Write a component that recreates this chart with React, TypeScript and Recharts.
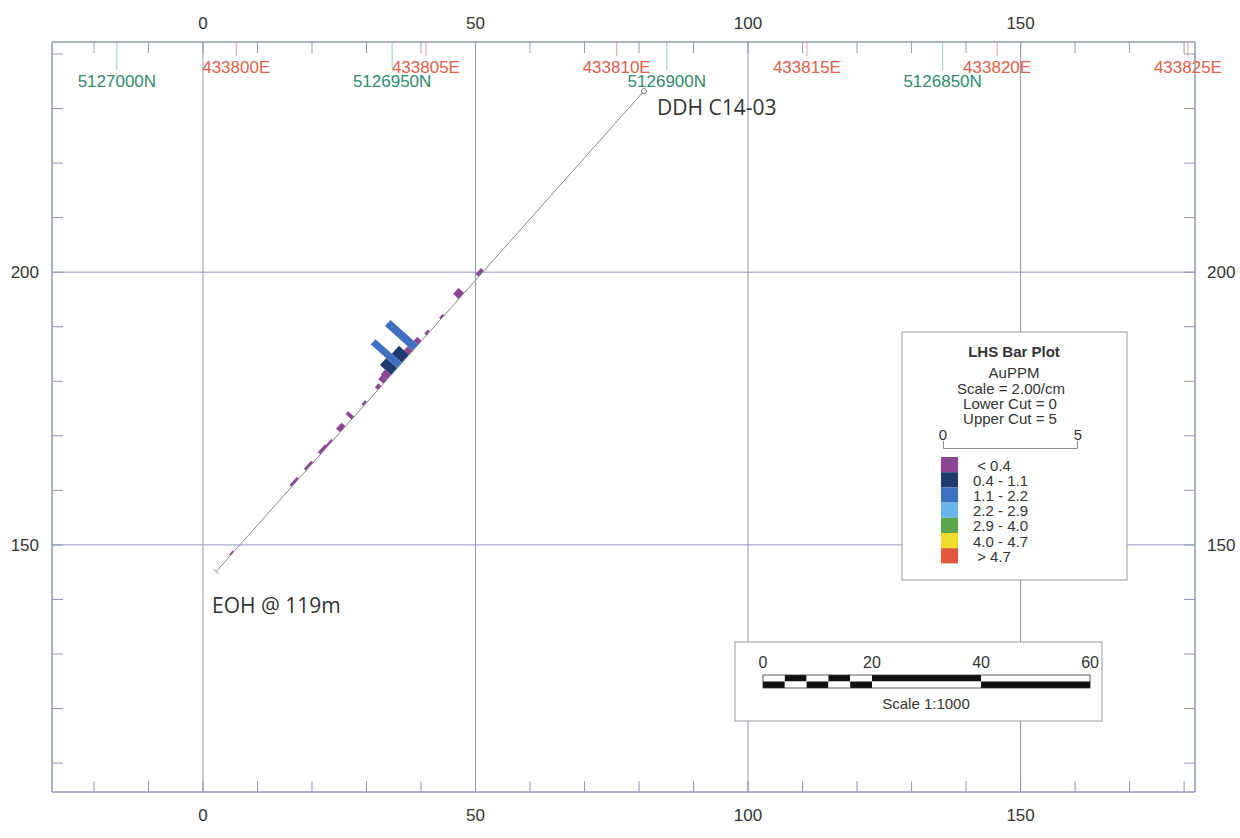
import React from 'react';
import { ComposedChart, Line, XAxis, YAxis, CartesianGrid, ReferenceDot, ReferenceLine } from 'recharts';

// section frame (metres along section / elevation)
const X_DOMAIN: [number, number] = [-27.7, 182];
const Y_DOMAIN: [number, number] = [104.7, 242.2];
const sectionTicks = [0, 50, 100, 150];
const elevationTicks = [150, 200];
const minorX = [-20, -10, 0, 10, 20, 30, 40, 50, 60, 70, 80, 90, 100, 110, 120, 130, 140, 150, 160, 170, 180];
const minorY = [110, 120, 130, 140, 150, 160, 170, 180, 190, 200, 210, 220, 230, 240];

// map grid pierce points along the section
const eastTickX = [6.1, 40.9, 75.9, 110.8, 145.7, 180.7];
const eastLabels = ['433800E', '433805E', '433810E', '433815E', '433820E', '433825E'];
const northTickX = [-15.8, 34.7, 85.1, 135.7];
const northLabels = ['5127000N', '5126950N', '5126900N', '5126850N'];

// drill hole
const collar = { x: 80.9, y: 233.2 };
const eoh = { x: 2.4, y: 145.1 };
const holeLength = 119;

// assays (depth from / to in m, Au ppm)
const sampleFrom = [44.5, 50.0, 55.5, 59.5, 61.8, 62.8, 64.3, 65.3, 67.3, 68.6, 70.3, 71.5, 73.0, 77.0, 80.6, 83.0, 86.5, 88.0, 92.0, 96.0, 114.0];
const sampleTo = [46.0, 51.5, 56.5, 60.5, 62.8, 64.3, 65.3, 67.3, 68.6, 70.3, 71.5, 72.5, 74.0, 78.0, 81.3, 84.5, 88.0, 90.0, 94.0, 98.0, 115.0];
const auPpm = [0.15, 0.28, 0.08, 0.1, 0.22, 1.36, 0.25, 0.5, 1.3, 0.55, 0.3, 0.25, 0.15, 0.1, 0.3, 0.2, 0.08, 0.12, 0.1, 0.1, 0.06];

// legend classes
const classUpper = [0.4, 1.1, 2.2, 2.9, 4.0, 4.7, Infinity];
const classLabels = [' < 0.4', '0.4 - 1.1', '1.1 - 2.2', '2.2 - 2.9', '2.9 - 4.0', '4.0 - 4.7', ' > 4.7'];
const classColors = ['#8c4494', '#1f3b6e', '#3e70c2', '#69b5ec', '#5aa64c', '#f1dc2c', '#e0573c'];

// scale bar (m)
const scaleLabels = [0, 20, 40, 60];
const scaleFrom = [0, 4, 8, 12, 16, 20, 40];
const scaleTo = [4, 8, 12, 16, 20, 40, 60];
const scaleTopBlack = [false, true, false, true, false, true, false];

const M_PER_PPM = 5; // 2.00 ppm / cm at 1:1000
const PLOT_W = 1143;
const PLOT_H = 750;
const PX_PER_M = PLOT_W / (X_DOMAIN[1] - X_DOMAIN[0]);
const PX_PER_M_Y = PLOT_H / (Y_DOMAIN[1] - Y_DOMAIN[0]);
const tickLen = (px: number) => px / PX_PER_M_Y;

const FONT = "'Liberation Sans', Arial, sans-serif";
const FRAME = '#8f97b6';
const GRID = '#8f97b6';

const dir = { x: (eoh.x - collar.x) / holeLength, y: (eoh.y - collar.y) / holeLength };
const dirLen = Math.hypot(dir.x, dir.y);
const perp = { x: dir.y / dirLen, y: -dir.x / dirLen }; // left-hand side

const along = (d: number) => ({ x: collar.x + dir.x * d, y: collar.y + dir.y * d });

const traceData = [collar, eoh];
const eohTick = [
  { x: eoh.x - perp.x * 0.6, y: eoh.y - perp.y * 0.6 },
  { x: eoh.x + perp.x * 0.6, y: eoh.y + perp.y * 0.6 },
];

const classOf = (v: number) => classUpper.findIndex((u) => v < u);

const bars = sampleFrom.map((from, i) => {
  const mid = (from + sampleTo[i]) / 2;
  const base = along(mid);
  const len = auPpm[i] * M_PER_PPM;
  return {
    data: [base, { x: base.x + perp.x * len, y: base.y + perp.y * len }],
    color: classColors[classOf(auPpm[i])],
    width: (sampleTo[i] - from) * dirLen * PX_PER_M,
  };
});

const axisTick = { fill: '#333', fontSize: 17, fontFamily: FONT };
const blank = () => '';
const [Y_MIN, Y_MAX] = Y_DOMAIN;

export default function App() {
  return (
    <div style={{ position: 'absolute', left: 0, top: 0, width: 1240, height: 838, background: '#fff' }}>
      <ComposedChart width={1240} height={838} margin={{ top: 12, right: 0, bottom: 16, left: 0 }}>
        <CartesianGrid stroke={GRID} strokeWidth={1} fill="none" />

        <XAxis type="number" dataKey="x" domain={X_DOMAIN} allowDataOverflow ticks={sectionTicks} interval={0}
          height={30} tickSize={0} tickMargin={17} axisLine={{ stroke: FRAME }} tickLine={false} tick={axisTick} />
        <XAxis xAxisId="top" orientation="top" type="number" dataKey="x" domain={X_DOMAIN} allowDataOverflow
          ticks={sectionTicks} interval={0} height={30} tickSize={0} tickMargin={13} axisLine={{ stroke: FRAME }} tickLine={false} tick={axisTick} />
        <YAxis type="number" domain={Y_DOMAIN} allowDataOverflow ticks={elevationTicks} interval={0}
          width={52} tickSize={0} tickMargin={13} axisLine={false} tickLine={false} tick={axisTick} />
        <YAxis yAxisId="right" orientation="right" type="number" domain={Y_DOMAIN} allowDataOverflow ticks={elevationTicks}
          interval={0} width={45} tickSize={0} tickMargin={12} axisLine={false} tickLine={false} tick={axisTick} />

        {/* frame with inward minor ticks */}
        <YAxis yAxisId="minorLeft" orientation="left" mirror width={1} type="number" domain={Y_DOMAIN} allowDataOverflow
          ticks={minorY} interval={0} tickFormatter={blank} tickSize={11} tickLine={{ stroke: FRAME }} axisLine={{ stroke: FRAME }} />
        <YAxis yAxisId="minorRight" orientation="right" mirror width={1} type="number" domain={Y_DOMAIN} allowDataOverflow
          ticks={minorY} interval={0} tickFormatter={blank} tickSize={11} tickLine={{ stroke: FRAME }} axisLine={{ stroke: FRAME }} />

        {minorX.map((x) => (
          <ReferenceLine key={`mt${x}`} segment={[{ x, y: Y_MAX }, { x, y: Y_MAX - tickLen(11) }]} stroke={FRAME} />
        ))}
        {minorX.map((x) => (
          <ReferenceLine key={`mb${x}`} segment={[{ x, y: Y_MIN }, { x, y: Y_MIN + tickLen(11) }]} stroke={FRAME} />
        ))}

        {/* easting / northing pierce points */}
        {northTickX.map((x, i) => (
          <ReferenceLine key={`n${x}`} segment={[{ x, y: Y_MAX }, { x, y: Y_MAX - tickLen(28) }]} stroke="#93cdd0"
            label={{ value: northLabels[i], position: 'bottom', offset: 5, fill: '#2f8a6f', fontSize: 17, fontFamily: FONT }} />
        ))}
        {eastTickX.map((x, i) => (
          <ReferenceLine key={`e${x}`} segment={[{ x, y: Y_MAX }, { x, y: Y_MAX - tickLen(14) }]} stroke="#eba096"
            label={{ value: eastLabels[i], position: 'bottom', offset: 4.5, fill: '#e0604c', fontSize: 17, fontFamily: FONT }} />
        ))}

        {bars.map((b, i) => (
          <Line key={i} data={b.data} dataKey="y" type="linear" stroke={b.color} strokeWidth={b.width}
            dot={false} activeDot={false} isAnimationActive={false} legendType="none" />
        ))}
        <Line data={traceData} dataKey="y" type="linear" stroke="#858894" strokeWidth={1}
          dot={false} activeDot={false} isAnimationActive={false} legendType="none" />
        <Line data={eohTick} dataKey="y" type="linear" stroke="#858894" strokeWidth={1}
          dot={false} activeDot={false} isAnimationActive={false} legendType="none" />
        <ReferenceDot x={collar.x} y={collar.y} r={2.5} fill="#fff" stroke="#777" strokeWidth={1} />
      </ComposedChart>

      <svg width={1240} height={838} style={{ position: 'absolute', left: 0, top: 0, pointerEvents: 'none' }}>
        <text x={657} y={115} fontFamily="'Open Sans', sans-serif" fontSize={21} fill="#333">DDH C14-03</text>
        <text x={212} y={613} fontFamily="'Open Sans', sans-serif" fontSize={21} fill="#333">EOH @ 119m</text>

        {/* bar plot legend */}
        <g fontFamily={FONT} fill="#333">
          <rect x={902} y={332} width={225} height={248} fill="#fff" stroke="#9a9a9a" />
          <text x={1014} y={357} textAnchor="middle" fontSize={15} fontWeight="bold">LHS Bar Plot</text>
          <text x={1014} y={378} textAnchor="middle" fontSize={15}>AuPPM</text>
          <text x={1011} y={393.5} textAnchor="middle" fontSize={15}>Scale = 2.00/cm</text>
          <text x={1010} y={409} textAnchor="middle" fontSize={15}>Lower Cut = 0</text>
          <text x={1010} y={424} textAnchor="middle" fontSize={15}>Upper Cut = 5</text>
          <text x={943} y={439.5} textAnchor="middle" fontSize={15}>0</text>
          <text x={1078} y={439.5} textAnchor="middle" fontSize={15}>5</text>
          <path d="M943.5,441 V448.5 H1077.5 V441" fill="none" stroke="#8a8a8a" />
          {classLabels.map((lab, i) => (
            <g key={lab}>
              <rect x={941} y={457 + i * 15.2} width={17} height={15.2} fill={classColors[i]} />
              <text x={973} y={470.5 + i * 15.2} fontSize={15} style={{ whiteSpace: 'pre' }}>{lab}</text>
            </g>
          ))}
        </g>

        {/* scale bar */}
        <g fontFamily={FONT} fill="#333">
          <rect x={735} y={642} width={367} height={79} fill="#fff" stroke="#9a9a9a" />
          {scaleLabels.map((v) => (
            <text key={v} x={763 + v * PX_PER_M} y={668} textAnchor="middle" fontSize={16}>{v}</text>
          ))}
          {scaleFrom.map((f, i) => (
            <g key={f}>
              <rect x={763 + f * PX_PER_M} y={675} width={(scaleTo[i] - f) * PX_PER_M} height={6.5}
                fill={scaleTopBlack[i] ? '#111' : '#fff'} />
              <rect x={763 + f * PX_PER_M} y={681.5} width={(scaleTo[i] - f) * PX_PER_M} height={6.5}
                fill={scaleTopBlack[i] ? '#fff' : '#111'} />
            </g>
          ))}
          <rect x={763} y={675} width={60 * PX_PER_M} height={13} fill="none" stroke="#333" strokeWidth={0.8} />
          <text x={926} y={708.5} textAnchor="middle" fontSize={15}>Scale 1:1000</text>
        </g>
      </svg>
    </div>
  );
}
